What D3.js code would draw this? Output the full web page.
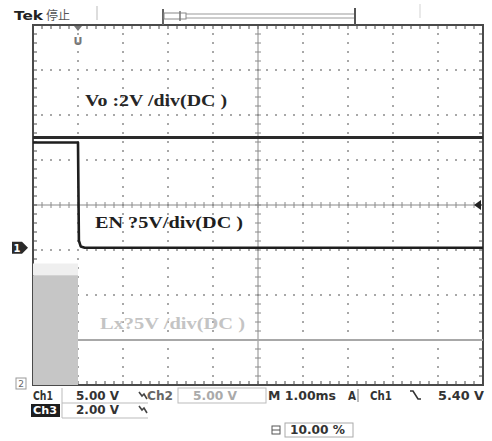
<!DOCTYPE html>
<html>
<head>
<meta charset="utf-8">
<script src="https://cdn.jsdelivr.net/npm/d3@7"></script>
<style>
  html, body { margin: 0; padding: 0; background: #fff; }
  svg { display: block; }
</style>
</head>
<body>
<svg id="scope" width="492" height="441"></svg>
<script>
// Time axis: 1 ms/div, 10 divisions, trigger at 10 % of the record
const timeRangeMs = [-1, 9];
const divRange = [-4, 4];

// Channel settings (volts per division, ground position in divisions from centre)
const ch1Scale = { vPerDiv: 5, groundDiv: -0.95 };  // EN
const ch2Scale = { vPerDiv: 5, groundDiv: -4 };     // Lx
const ch3Scale = { vPerDiv: 2, groundDiv: -4 };     // Vo

// Vo (Ch3) – steady output
const voTime = [-1, 9];
const voVolts = [11.0, 11.0];

// EN (Ch1) – falls at the trigger point
const enTime = [-1, 0, 0.02, 0.06, 0.15, 9];
const enVolts = [11.7, 11.7, 0.8, 0.15, 0, 0];

// Lx (Ch2) – switching envelope before turn-off, then settles
const lxBurstTime = [-1, 0];
const lxBurstLow = [0, 0];
const lxBurstHigh = [12.2, 12.2];
const lxBurstGhost = [13.5, 13.5];
const lxTime = [0, 9];
const lxVolts = [5, 5];

// Readout texts
const traceLabels = ["Vo :2V /div(DC )", "EN ?5V/div(DC )", "Lx?5V /div(DC )"];
const readoutRow1 = ["Ch1", "5.00 V", "Ch2", "5.00 V", "M 1.00ms", "A", "Ch1", "5.40 V"];
const readoutRow2 = ["Ch3", "2.00 V"];
const triggerPosText = "10.00 %";

const svg = d3.select("#scope");
const x = d3.scaleLinear().domain(timeRangeMs).range([33, 483]);
const y = d3.scaleLinear().domain(divRange).range([385, 25]);
const toDiv = (ch, v) => ch.groundDiv + v / ch.vPerDiv;

const [x0, x1] = x.range();
const [yb, yt] = y.range();
const minorX = d3.range(timeRangeMs[0], timeRangeMs[1] + 1e-9, 0.2);
const minorY = d3.range(divRange[0], divRange[1] + 1e-9, 0.2);

// ---- graticule dots
const gDots = svg.append("g").attr("fill", "#a8a8a8");
d3.range(timeRangeMs[0] + 1, timeRangeMs[1]).filter(t => t !== 4).forEach(t => {
  gDots.selectAll(null).data(minorY).join("rect")
    .attr("x", x(t) - 1).attr("y", d => y(d) - 1)
    .attr("width", 2).attr("height", 2);
});
d3.range(divRange[0] + 1, divRange[1]).filter(d => d !== 0).forEach(dv => {
  gDots.selectAll(null).data(minorX).join("rect")
    .attr("x", d => x(d) - 1).attr("y", y(dv) - 1)
    .attr("width", 2).attr("height", 2);
});

// ---- centre cross-hair with minor ticks
const gCross = svg.append("g").attr("stroke", "#8a8a8a").attr("stroke-width", 1);
gCross.append("line").attr("x1", x0).attr("x2", x1).attr("y1", y(0)).attr("y2", y(0));
gCross.append("line").attr("x1", x(4)).attr("x2", x(4)).attr("y1", yt).attr("y2", yb);
gCross.selectAll(".tx").data(minorX).join("line")
  .attr("x1", d => x(d)).attr("x2", d => x(d)).attr("y1", y(0) - 3).attr("y2", y(0) + 3);
gCross.selectAll(".ty").data(minorY).join("line")
  .attr("x1", x(4) - 3).attr("x2", x(4) + 3).attr("y1", d => y(d)).attr("y2", d => y(d));

// ---- frame with inward ticks
const gFrame = svg.append("g").attr("stroke", "#4a4a4a");
gFrame.append("rect").attr("x", x0).attr("y", yt).attr("width", x1 - x0).attr("height", yb - yt)
  .attr("fill", "none").attr("stroke-width", 2);
gFrame.selectAll(".ft").data(minorX).join("line").attr("stroke-width", 1)
  .attr("x1", d => x(d)).attr("x2", d => x(d)).attr("y1", yt).attr("y2", yt + 4);
gFrame.selectAll(".fb").data(minorX).join("line").attr("stroke-width", 1)
  .attr("x1", d => x(d)).attr("x2", d => x(d)).attr("y1", yb).attr("y2", yb - 4);
gFrame.selectAll(".fl").data(minorY).join("line").attr("stroke-width", 1)
  .attr("x1", x0).attr("x2", x0 + 4).attr("y1", d => y(d)).attr("y2", d => y(d));
gFrame.selectAll(".fr").data(minorY).join("line").attr("stroke-width", 1)
  .attr("x1", x1).attr("x2", x1 - 4).attr("y1", d => y(d)).attr("y2", d => y(d));

// ---- Lx switching envelope
const burst = lxBurstTime.map((t, i) => ({ t, lo: lxBurstLow[i], hi: lxBurstHigh[i], gh: lxBurstGhost[i] }));
svg.append("path").datum(burst)
  .attr("fill", "#efefef")
  .attr("d", d3.area().x(d => x(d.t)).y0(d => y(toDiv(ch2Scale, d.hi))).y1(d => y(toDiv(ch2Scale, d.gh))));
svg.append("path").datum(burst)
  .attr("fill", "#c6c6c6")
  .attr("d", d3.area().x(d => x(d.t)).y0(d => y(toDiv(ch2Scale, d.lo))).y1(d => y(toDiv(ch2Scale, d.hi))));

const line = ch => d3.line().x(d => x(d[0])).y(d => y(toDiv(ch, d[1])));

// Lx after turn-off
svg.append("path").datum(d3.zip(lxTime, lxVolts))
  .attr("fill", "none").attr("stroke", "#a8a8a8").attr("stroke-width", 2.2)
  .attr("d", line(ch2Scale));

// Vo
svg.append("path").datum(d3.zip(voTime, voVolts))
  .attr("fill", "none").attr("stroke", "#2a2a2a").attr("stroke-width", 2.8)
  .attr("d", line(ch3Scale));

// EN
svg.append("path").datum(d3.zip(enTime, enVolts))
  .attr("fill", "none").attr("stroke", "#1e1e1e").attr("stroke-width", 2.6)
  .attr("stroke-linejoin", "round")
  .attr("d", line(ch1Scale));

// ---- trace annotations
const serif = "'Liberation Serif', 'DejaVu Serif', serif";
const annot = [
  { text: traceLabels[0], x: 85, y: 106, len: 142, fill: "#262626" },
  { text: traceLabels[1], x: 95, y: 228, len: 148, fill: "#1e1e1e" },
  { text: traceLabels[2], x: 100, y: 329, len: 145, fill: "#c4c4c4" }
];
svg.selectAll(".annot").data(annot).join("text")
  .attr("x", d => d.x).attr("y", d => d.y)
  .attr("font-family", serif).attr("font-weight", "bold").attr("font-size", 16)
  .attr("textLength", d => d.len).attr("lengthAdjust", "spacingAndGlyphs")
  .attr("fill", d => d.fill).text(d => d.text);

// ---- header: status and record bar
const sans = "'DejaVu Sans', 'Liberation Sans', sans-serif";
svg.append("text").attr("x", 14).attr("y", 20).attr("font-family", sans)
  .attr("font-weight", "bold").attr("font-size", 13).attr("fill", "#222")
  .attr("textLength", 29).attr("lengthAdjust", "spacingAndGlyphs").text("Tek");
svg.append("text").attr("x", 46).attr("y", 20).attr("font-family", "'Noto Sans CJK SC', sans-serif")
  .attr("font-size", 12).attr("fill", "#555").text("停止");

const gRec = svg.append("g").attr("stroke", "#9a9a9a").attr("fill", "none");
gRec.append("rect").attr("x", 163).attr("y", 14).attr("width", 192).attr("height", 4).attr("stroke-width", 1);
gRec.append("line").attr("x1", 163).attr("x2", 163).attr("y1", 9).attr("y2", 25).attr("stroke", "#666").attr("stroke-width", 2);
gRec.append("line").attr("x1", 355).attr("x2", 355).attr("y1", 8).attr("y2", 25).attr("stroke", "#555").attr("stroke-width", 2);
gRec.append("rect").attr("x", 164).attr("y", 13).attr("width", 22).attr("height", 6).attr("fill", "#fff").attr("stroke", "#888");
gRec.append("line").attr("x1", 180).attr("x2", 180).attr("y1", 11).attr("y2", 21).attr("stroke", "#777").attr("stroke-width", 1.5);
svg.append("line").attr("x1", 97).attr("x2", 97).attr("y1", 6).attr("y2", 20).attr("stroke", "#ddd").attr("stroke-width", 2);
svg.append("line").attr("x1", 420).attr("x2", 420).attr("y1", 4).attr("y2", 18).attr("stroke", "#e2e2e2").attr("stroke-width", 1.5);

// trigger position marker
svg.append("path").attr("d", `M${x(0) - 4},${yt + 1}L${x(0) + 4},${yt + 1}L${x(0)},${yt + 6}Z`).attr("fill", "#777");
svg.append("text").attr("x", x(0)).attr("y", 45).attr("text-anchor", "middle")
  .attr("font-family", sans).attr("font-weight", "bold").attr("font-size", 11).attr("fill", "#777").text("U");

// trigger level marker (right edge)
svg.append("path").attr("d", `M${x1 - 9},${y(0)}L${x1 - 2},${y(0) - 5}L${x1 - 2},${y(0) + 5}Z`).attr("fill", "#222");

// channel ground markers
const gnd1 = y(ch1Scale.groundDiv);
svg.append("path").attr("d", `M12,${gnd1 - 6}L22,${gnd1 - 6}L28,${gnd1}L22,${gnd1 + 6}L12,${gnd1 + 6}Z`).attr("fill", "#2a2a2a");
svg.append("text").attr("x", 17).attr("y", gnd1 + 4).attr("text-anchor", "middle").attr("font-family", sans)
  .attr("font-weight", "bold").attr("font-size", 10).attr("fill", "#fff").text("1");
const gnd2 = y(ch2Scale.groundDiv);
svg.append("rect").attr("x", 16).attr("y", gnd2 - 7).attr("width", 10).attr("height", 11)
  .attr("fill", "#fff").attr("stroke", "#999");
svg.append("text").attr("x", 21).attr("y", gnd2 + 2).attr("text-anchor", "middle").attr("font-family", sans)
  .attr("font-size", 9).attr("fill", "#666").text("2");

// ---- readout area
const rd = svg.append("g").attr("font-family", sans).attr("font-weight", "bold").attr("font-size", 12).attr("fill", "#333");
const row1 = [
  { t: readoutRow1[0], x: 33, len: 20 },
  { t: readoutRow1[1], x: 76, len: 43 },
  { t: readoutRow1[2], x: 147, len: 26, fill: "#666" },
  { t: readoutRow1[3], x: 193, len: 44, fill: "#aaa" },
  { t: readoutRow1[4], x: 268, len: 68 },
  { t: readoutRow1[5], x: 348, len: 8 },
  { t: readoutRow1[6], x: 370, len: 22 },
  { t: readoutRow1[7], x: 438, len: 46 }
];
rd.selectAll(".r1").data(row1).join("text")
  .attr("x", d => d.x).attr("y", 400).attr("fill", d => d.fill || "#333")
  .attr("textLength", d => d.len).attr("lengthAdjust", "spacingAndGlyphs").text(d => d.t);

// readout cell borders
const gBox = svg.append("g").attr("fill", "none").attr("stroke", "#bbb").attr("stroke-width", 1);
gBox.append("line").attr("x1", 62).attr("x2", 62).attr("y1", 388).attr("y2", 418);
gBox.append("line").attr("x1", 62).attr("x2", 148).attr("y1", 403).attr("y2", 403);
gBox.append("line").attr("x1", 62).attr("x2", 148).attr("y1", 418).attr("y2", 418);
gBox.append("rect").attr("x", 178).attr("y", 388).attr("width", 88).attr("height", 15);
gBox.append("line").attr("x1", 358).attr("x2", 358).attr("y1", 389).attr("y2", 402).attr("stroke", "#777");

// coupling / bandwidth glyphs
const glyph = (gx, gy) => svg.append("path")
  .attr("d", `M${gx},${gy - 8}L${gx + 3},${gy - 4}L${gx + 5},${gy - 6}L${gx + 8},${gy - 1}`)
  .attr("fill", "none").attr("stroke", "#444").attr("stroke-width", 1.6);
glyph(139, 400);
glyph(139, 414);
// trigger slope glyph
svg.append("path").attr("d", "M410,391L413,391L418,399L421,399").attr("fill", "none").attr("stroke", "#333").attr("stroke-width", 1.6);

// Ch3 inverted label and row 2
svg.append("rect").attr("x", 31).attr("y", 404).attr("width", 29).attr("height", 13).attr("fill", "#1e1e1e");
svg.append("text").attr("x", 33).attr("y", 414).attr("font-family", sans).attr("font-weight", "bold")
  .attr("font-size", 11).attr("fill", "#fff").attr("textLength", 24).attr("lengthAdjust", "spacingAndGlyphs")
  .text(readoutRow2[0]);
rd.append("text").attr("x", 76).attr("y", 414).attr("textLength", 43).attr("lengthAdjust", "spacingAndGlyphs").text(readoutRow2[1]);

// trigger position readout
svg.append("rect").attr("x", 272).attr("y", 426).attr("width", 8).attr("height", 8).attr("fill", "none").attr("stroke", "#555");
svg.append("line").attr("x1", 272).attr("x2", 280).attr("y1", 430).attr("y2", 430).attr("stroke", "#555");
svg.append("rect").attr("x", 285).attr("y", 423).attr("width", 68).attr("height", 14).attr("fill", "none").attr("stroke", "#aaa");
rd.append("text").attr("x", 290).attr("y", 434).attr("textLength", 55).attr("lengthAdjust", "spacingAndGlyphs").text(triggerPosText);
</script>
</body>
</html>
